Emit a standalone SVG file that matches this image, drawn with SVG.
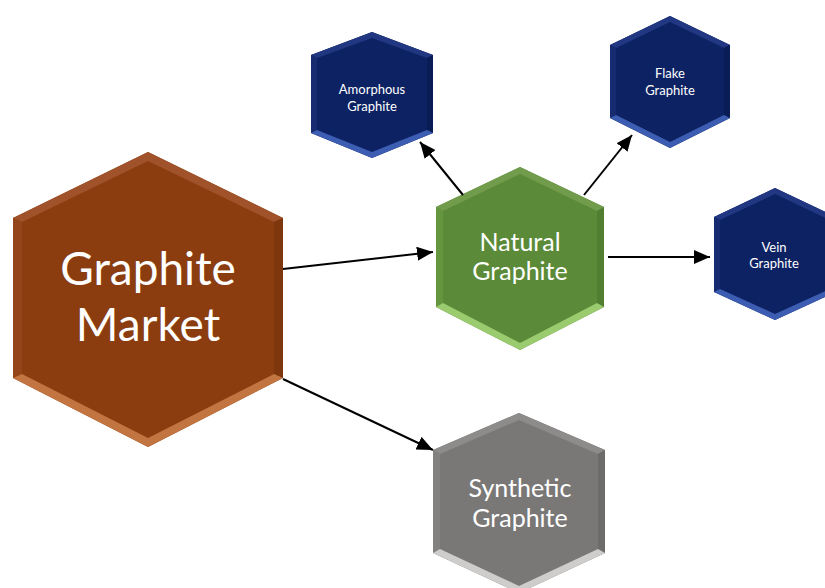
<svg xmlns="http://www.w3.org/2000/svg" width="825" height="588" viewBox="0 0 825 588">
<style>
text{font-family:Lato,"Open Sans","Liberation Sans",sans-serif;fill:#ffffff;text-anchor:middle}
.big{font-size:46px}
.mid{font-size:25px}
.sm{font-size:13px}
.conn line{stroke:#000;stroke-width:2;marker-end:url(#ah)}
.brown .base{fill:#8B3D10}.brown .ft{fill:#A0532A}.brown .fl{fill:#94451A}.brown .fr{fill:#7E360D}.brown .fb{fill:#C27540}
.green .base{fill:#5B8A38}.green .ft{fill:#709C4C}.green .fl{fill:#65963F}.green .fr{fill:#527E32}.green .fb{fill:#9BCB6F}
.blue .base{fill:#0D2263}.blue .ft{fill:#213781}.blue .fl{fill:#172B70}.blue .fr{fill:#0A1C55}.blue .fb{fill:#3C5DB2}
.grey .base{fill:#7A7877}.grey .ft{fill:#8E8C8B}.grey .fl{fill:#838180}.grey .fr{fill:#6E6C6B}.grey .fb{fill:#CFCDCC}
</style>
<defs>
<marker id="ah" markerUnits="userSpaceOnUse" markerWidth="17" markerHeight="15" refX="16" refY="7" orient="auto">
<path d="M0,0 L16,7 L0,14 z" fill="#000"/>
</marker>
</defs>

<g id="graphite-market" class="brown">
<polygon class="base" points="148,152 283,218 283,378 148,447 13,378 13,218"/>
<polygon class="ft" points="148,152 13,218 22,222 148,161"/>
<polygon class="ft" points="148,152 283,218 274,222 148,161"/>
<polygon class="fl" points="13,218 13,378 22,374 22,222"/>
<polygon class="fr" points="283,218 283,378 274,374 274,222"/>
<polygon class="fb" points="13,378 148,447 148,438 22,374"/>
<polygon class="fb" points="283,378 148,447 148,438 274,374"/>
<text class="big" x="148" y="285">Graphite</text>
<text class="big" x="148" y="341">Market</text>
</g>

<g id="natural-graphite" class="green">
<polygon class="base" points="520,167 604,207 604,307 520,350 436,307 436,207"/>
<polygon class="ft" points="520,167 436,207 443,211 520,174"/>
<polygon class="ft" points="520,167 604,207 597,211 520,174"/>
<polygon class="fl" points="436,207 436,307 443,303 443,211"/>
<polygon class="fr" points="604,207 604,307 597,303 597,211"/>
<polygon class="fb" points="436,307 520,350 520,343 443,303"/>
<polygon class="fb" points="604,307 520,350 520,343 597,303"/>
<text class="mid" x="520" y="251">Natural</text>
<text class="mid" x="520" y="280">Graphite</text>
</g>

<g id="synthetic-graphite" class="grey">
<polygon class="base" points="519,413 605,450 605,553 519,593 433,553 433,450"/>
<polygon class="ft" points="519,413 433,450 440,454 519,420"/>
<polygon class="ft" points="519,413 605,450 598,454 519,420"/>
<polygon class="fl" points="433,450 433,553 440,549 440,454"/>
<polygon class="fr" points="605,450 605,553 598,549 598,454"/>
<polygon class="fb" points="433,553 519,593 519,586 440,549"/>
<polygon class="fb" points="605,553 519,593 519,586 598,549"/>
<text class="mid" x="520" y="497">Synthetic</text>
<text class="mid" x="520" y="527">Graphite</text>
</g>

<g id="amorphous-graphite" class="blue">
<polygon class="base" points="372,32 433,55 433,133 372,158 311,133 311,55"/>
<polygon class="ft" points="372,32 311,55 317,58 372,38"/>
<polygon class="ft" points="372,32 433,55 427,58 372,38"/>
<polygon class="fl" points="311,55 311,133 317,130 317,58"/>
<polygon class="fr" points="433,55 433,133 427,130 427,58"/>
<polygon class="fb" points="311,133 372,158 372,152 317,130"/>
<polygon class="fb" points="433,133 372,158 372,152 427,130"/>
<text class="sm" x="372" y="94">Amorphous</text>
<text class="sm" x="372" y="111">Graphite</text>
</g>

<g id="flake-graphite" class="blue">
<polygon class="base" points="670,16 730,45 730,118 670,148 610,118 610,45"/>
<polygon class="ft" points="670,16 610,45 616,48 670,22"/>
<polygon class="ft" points="670,16 730,45 724,48 670,22"/>
<polygon class="fl" points="610,45 610,118 616,115 616,48"/>
<polygon class="fr" points="730,45 730,118 724,115 724,48"/>
<polygon class="fb" points="610,118 670,148 670,142 616,115"/>
<polygon class="fb" points="730,118 670,148 670,142 724,115"/>
<text class="sm" x="670" y="78">Flake</text>
<text class="sm" x="670" y="95">Graphite</text>
</g>

<g id="vein-graphite" class="blue">
<polygon class="base" points="775,188 836,217 836,292 775,320 714,292 714,217"/>
<polygon class="ft" points="775,188 714,217 720,220 775,194"/>
<polygon class="ft" points="775,188 836,217 830,220 775,194"/>
<polygon class="fl" points="714,217 714,292 720,289 720,220"/>
<polygon class="fr" points="836,217 836,292 830,289 830,220"/>
<polygon class="fb" points="714,292 775,320 775,314 720,289"/>
<polygon class="fb" points="836,292 775,320 775,314 830,289"/>
<text class="sm" x="774" y="252">Vein</text>
<text class="sm" x="774" y="268">Graphite</text>
</g>

<g id="connectors" class="conn">
<line x1="283" y1="269" x2="433" y2="252"/>
<line x1="283" y1="379" x2="433" y2="450"/>
<line x1="463" y1="195" x2="420" y2="142"/>
<line x1="584" y1="195" x2="632" y2="135"/>
<line x1="608" y1="257" x2="710" y2="257"/>
</g>
</svg>
